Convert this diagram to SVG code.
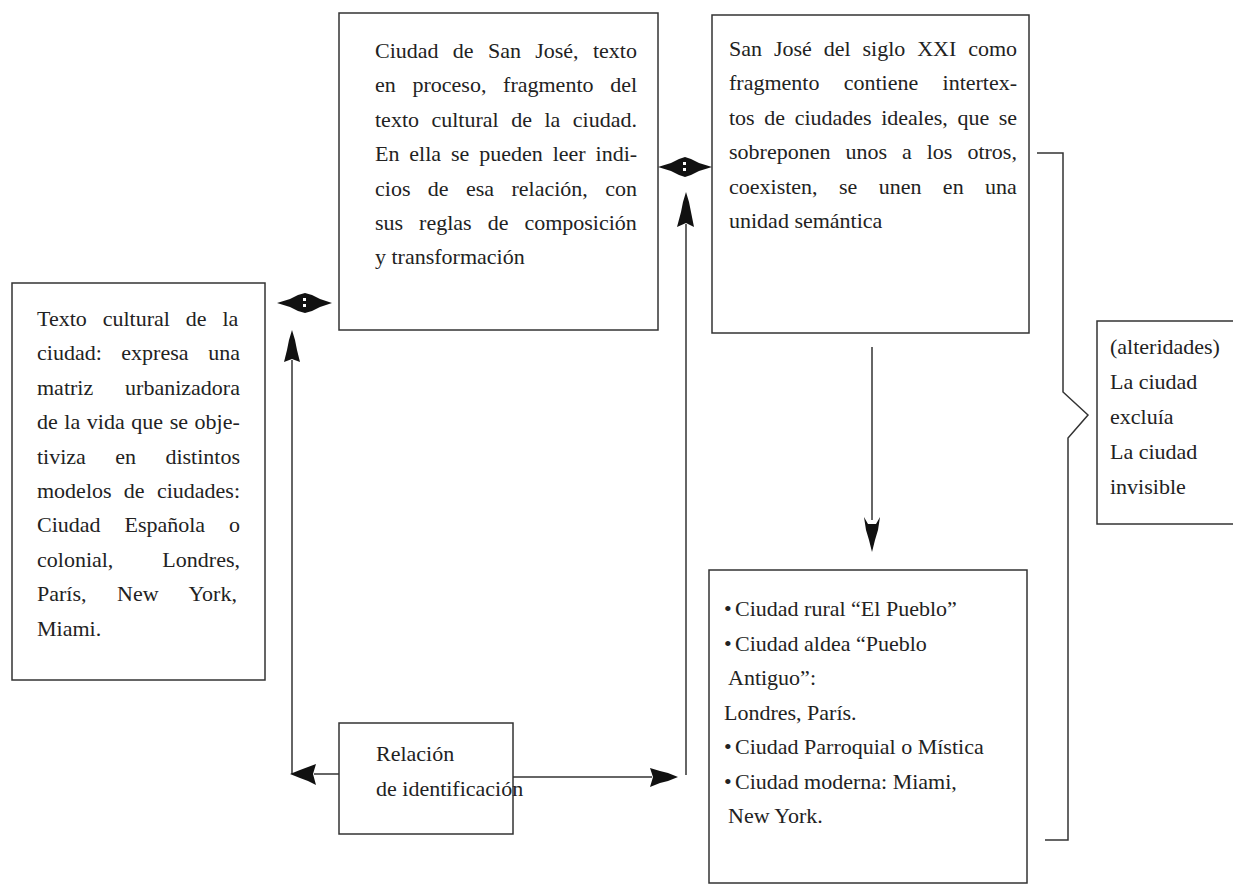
<svg xmlns="http://www.w3.org/2000/svg" width="1233" height="886" viewBox="0 0 1233 886">
<style>
.box{fill:#fff;stroke:#333;stroke-width:1.5}
.t{font-family:"Liberation Serif","Times New Roman",serif;font-size:22px;fill:#222}
.ln{fill:none;stroke:#333;stroke-width:1.5}
.ah{fill:#111;stroke:none}
</style>
<rect width="1233" height="886" fill="#fff"/>
<g id="n1">
<rect class="box" x="12" y="283" width="253" height="397"/>
<text class="t" x="37" y="326">
<tspan x="37" word-spacing="10.4">Texto cultural de la</tspan>
<tspan x="37" dy="34.4" word-spacing="14.1">ciudad: expresa una</tspan>
<tspan x="37" dy="34.4" word-spacing="26.4">matriz urbanizadora</tspan>
<tspan x="37" dy="34.4" word-spacing="1.1">de la vida que se obje-</tspan>
<tspan x="37" dy="34.4" word-spacing="23.9">tiviza en distintos</tspan>
<tspan x="37" dy="34.4" word-spacing="6.8">modelos de ciudades:</tspan>
<tspan x="37" dy="34.4" word-spacing="18.4">Ciudad Española o</tspan>
<tspan x="37" dy="34.4" word-spacing="43.5">colonial, Londres,</tspan>
<tspan x="37" dy="34.4" word-spacing="25.1">París, New York,</tspan>
<tspan x="37" dy="34.4">Miami.</tspan>
</text>
</g>
<g id="n2">
<rect class="box" x="339" y="13" width="319" height="317"/>
<text class="t" x="375" y="58">
<tspan x="375" word-spacing="8.8">Ciudad de San José, texto</tspan>
<tspan x="375" dy="34.4" word-spacing="11.2">en proceso, fragmento del</tspan>
<tspan x="375" dy="34.4" word-spacing="7">texto cultural de la ciudad.</tspan>
<tspan x="375" dy="34.4" word-spacing="4.4">En ella se pueden leer indi-</tspan>
<tspan x="375" dy="34.4" word-spacing="11.9">cios de esa relación, con</tspan>
<tspan x="375" dy="34.4" word-spacing="10.5">sus reglas de composición</tspan>
<tspan x="375" dy="34.4">y transformación</tspan>
</text>
</g>
<g id="n3">
<rect class="box" x="712" y="15" width="317" height="318"/>
<text class="t" x="729" y="56">
<tspan x="729" word-spacing="6.4">San José del siglo XXI como</tspan>
<tspan x="729" dy="34.4" word-spacing="18.8">fragmento contiene intertex-</tspan>
<tspan x="729" dy="34.4" word-spacing="4.1">tos de ciudades ideales, que se</tspan>
<tspan x="729" dy="34.4" word-spacing="9.5">sobreponen unos a los otros,</tspan>
<tspan x="729" dy="34.4" word-spacing="15.9">coexisten, se unen en una</tspan>
<tspan x="729" dy="34.4">unidad semántica</tspan>
</text>
</g>
<g id="n4">
<rect class="box" x="709" y="570" width="318" height="313"/>
<text class="t" y="616">
<tspan x="724">•</tspan><tspan x="735">Ciudad  rural “El Pueblo”</tspan>
<tspan x="724" dy="34.5">•</tspan><tspan x="735">Ciudad aldea “Pueblo</tspan>
<tspan x="728" dy="34.5">Antiguo”:</tspan>
<tspan x="724" dy="34.5">Londres, París.</tspan>
<tspan x="724" dy="34.5">•</tspan><tspan x="735">Ciudad Parroquial o Mística</tspan>
<tspan x="724" dy="34.5">•</tspan><tspan x="735">Ciudad moderna: Miami,</tspan>
<tspan x="728" dy="34.5">New York.</tspan>
</text>
</g>
<g id="n5">
<rect class="box" x="339" y="723" width="174" height="111"/>
<text class="t" y="761">
<tspan x="376">Relación</tspan>
<tspan x="376" dy="35">de identificación</tspan>
</text>
</g>
<g id="n6">
<rect class="box" x="1097" y="321" width="140" height="203"/>
<text class="t" y="354">
<tspan x="1110">(alteridades)</tspan>
<tspan x="1110" dy="35">La ciudad</tspan>
<tspan x="1110" dy="35">excluía</tspan>
<tspan x="1110" dy="35">La ciudad</tspan>
<tspan x="1110" dy="35">invisible</tspan>
</text>
</g>
<g id="connectors">
<polyline class="ln" points="1037,153 1063,153 1063,392 1088,415 1068,438 1068,840 1045,840"/>
<line class="ln" x1="292" y1="360" x2="292" y2="774"/>
<line class="ln" x1="314" y1="774" x2="339" y2="774"/>
<line class="ln" x1="513" y1="777" x2="652" y2="777"/>
<line class="ln" x1="686" y1="224" x2="686" y2="775"/>
<line class="ln" x1="872" y1="347" x2="872" y2="520"/>
<polygon class="ah" points="277,303 290,299 298,295 305,293 312,295 320,299 332,303 320,307 312,311 305,313 298,311 290,307"/>
<rect x="303" y="298" width="3" height="3" fill="#fff"/>
<rect x="303" y="304" width="3" height="3" fill="#fff"/>
<polygon class="ah" points="658,167 671,163 679,159 685,157 691,159 699,163 712,167 699,171 691,175 685,177 679,175 671,171"/>
<rect x="683" y="162" width="3" height="3" fill="#fff"/>
<rect x="683" y="168" width="3" height="3" fill="#fff"/>
<polygon class="ah" points="292,330 289,340 287,350 284,362 292,359 300,362 297,350 295,340"/>
<polygon class="ah" points="686,192 683,202 681,212 677,227 686,223 694,227 691,212 689,202"/>
<polygon class="ah" points="864,517 868,524 876,524 880,517 878,530 875,540 872,552 869,540 866,530"/>
<polygon class="ah" points="290,774 300,770 308,767 316,764 313,774 316,785 308,781 300,778"/>
<polygon class="ah" points="678,777 668,773 660,771 650,768 653,777 650,787 660,783 668,781"/>
</g>
</svg>
